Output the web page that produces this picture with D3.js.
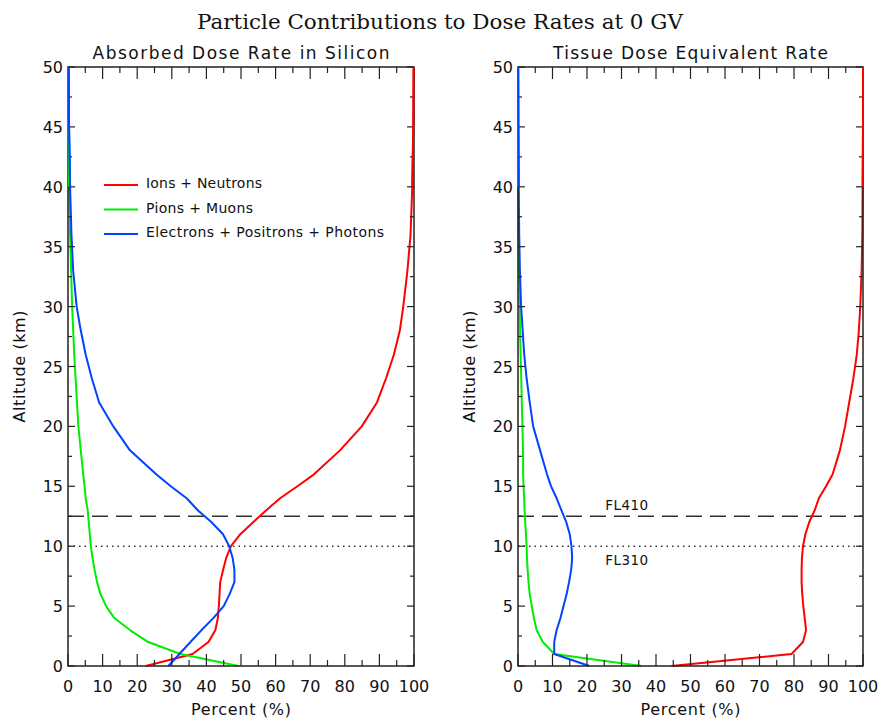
<!DOCTYPE html>
<html><head><meta charset="utf-8">
<script src="https://cdn.jsdelivr.net/npm/d3@7"></script>
<style>body{margin:0;background:#fff}svg{display:block}text{font-family:"DejaVu Sans",sans-serif;fill:#111}</style>
</head><body><svg id="c" width="880" height="721"></svg>
<script>
// ---------- data ----------
const altitudes = [0,1,2,3,4,5,6,7,8,9,10,11,12,13,14,15,16,18,20,22,24,26,28,30,33,36,40,45,50];

// Absorbed dose rate in silicon (%)
const siIonsNeutrons   = [22.5,36,40.6,42.6,43.3,43.6,43.8,44.0,44.8,45.7,47.1,49.8,53.5,57.3,61.3,66.3,71.1,78.6,84.9,89.3,91.9,94.2,95.9,96.9,98.1,99.0,99.5,99.8,99.9];
const siPionsMuons     = [49.3,32.5,23.2,17.9,13.4,11.0,9.4,8.4,7.7,7.1,6.6,6.3,6.0,5.7,5.1,4.8,4.4,3.7,3.0,2.6,2.2,1.8,1.5,1.2,0.9,0.6,0.3,0.15,0.1];
const siElectrons      = [29,32.2,35.4,38.6,42,45,46.7,48.1,48.1,47.6,46.6,44.8,41.5,37.5,34.3,29.7,25.5,17.9,13.1,9.0,6.9,5.1,3.7,2.5,1.5,1.0,0.6,0.3,0.2];

// Tissue dose equivalent rate (%)
const tiIonsNeutrons   = [44.5,79.3,82.6,83.5,83.1,82.7,82.4,82.2,82.2,82.3,82.6,83.3,84.4,86.0,87.2,89.3,91.2,93.3,94.8,96.0,97.2,98.2,98.8,99.2,99.6,99.8,99.9,100,100];
const tiPionsMuons     = [35.8,10.5,7.2,5.4,4.6,4.0,3.4,3.05,2.8,2.6,2.5,2.3,2.1,1.9,1.8,1.6,1.5,1.45,1.3,1.1,0.95,0.75,0.6,0.45,0.3,0.15,0.1,0.05,0.02];
const tiElectrons      = [20.7,10.5,10.5,11.2,12.3,13.2,14.1,14.8,15.4,15.7,15.5,15.0,14.0,12.6,11.2,9.6,8.4,6.4,4.4,3.4,2.5,1.8,1.35,0.9,0.55,0.35,0.2,0.1,0.05];

const seriesNames  = ["Ions + Neutrons","Pions + Muons","Electrons + Positrons + Photons"];
const seriesColors = ["#ff0000","#00ee00","#0044ff"];
const xTicks = [0,10,20,30,40,50,60,70,80,90,100];
const yTicks = [0,5,10,15,20,25,30,35,40,45,50];
const flightLevels = [{name:"FL410", alt:12.5, dash:"16,8"},{name:"FL310", alt:10, dash:"1.5,4"}];

const title = "Particle Contributions to Dose Rates at 0 GV";
const panels = [
  {title:"Absorbed Dose Rate in Silicon", titleLen:297, x0:68, x1:414, series:[siIonsNeutrons,siPionsMuons,siElectrons], legend:true, fl:false},
  {title:"Tissue Dose Equivalent Rate", titleLen:275, x0:518, x1:863, series:[tiIonsNeutrons,tiPionsMuons,tiElectrons], legend:false, fl:true}
];
const legendLens = [116,107,238];

// ---------- draw ----------
const svg = d3.select("#c");
const yTop = 67, yBot = 666;
const axisColor = "#222";

svg.append("text").attr("x",440).attr("y",29).attr("text-anchor","middle")
  .style("font-family","'DejaVu Serif',serif").style("font-size","20px")
  .attr("textLength",486).attr("lengthAdjust","spacingAndGlyphs").text(title);

panels.forEach(p => {
  const x = d3.scaleLinear().domain([0,100]).range([p.x0,p.x1]);
  const y = d3.scaleLinear().domain([0,50]).range([yBot,yTop]);
  const g = svg.append("g");

  // flight level lines
  flightLevels.forEach(f => {
    g.append("line").attr("x1",p.x0).attr("x2",p.x1).attr("y1",y(f.alt)).attr("y2",y(f.alt))
      .attr("stroke","#333").attr("stroke-width",1.4).attr("stroke-dasharray",f.dash);
  });
  if (p.fl) {
    g.append("text").attr("x",x(31.5)).attr("y",y(flightLevels[0].alt)-6).attr("text-anchor","middle")
      .style("font-size","13.5px").attr("textLength",43).text(flightLevels[0].name);
    g.append("text").attr("x",x(31.5)).attr("y",y(flightLevels[1].alt)+19).attr("text-anchor","middle")
      .style("font-size","13.5px").attr("textLength",43).text(flightLevels[1].name);
  }

  // data lines
  const line = d3.line().x(d=>x(d[0])).y(d=>y(d[1]));
  p.series.forEach((s,i) => {
    g.append("path").datum(s.map((v,k)=>[v,altitudes[k]]))
      .attr("d",line).attr("fill","none").attr("stroke",seriesColors[i])
      .attr("stroke-width",2).attr("stroke-linejoin","round");
  });

  // ticks
  d3.range(0,101,5).forEach(v => {
    const len = v % 10 === 0 ? 12 : 6;
    g.append("line").attr("x1",x(v)).attr("x2",x(v)).attr("y1",yBot).attr("y2",yBot-len).attr("stroke",axisColor).attr("stroke-width",1.2);
    g.append("line").attr("x1",x(v)).attr("x2",x(v)).attr("y1",yTop).attr("y2",yTop+len).attr("stroke",axisColor).attr("stroke-width",1.2);
  });
  d3.range(0,50.1,2.5).forEach(v => {
    const len = v % 5 === 0 ? 7 : 4;
    g.append("line").attr("x1",p.x0).attr("x2",p.x0+len).attr("y1",y(v)).attr("y2",y(v)).attr("stroke",axisColor).attr("stroke-width",1.2);
    g.append("line").attr("x1",p.x1).attr("x2",p.x1-len).attr("y1",y(v)).attr("y2",y(v)).attr("stroke",axisColor).attr("stroke-width",1.2);
  });
  // frame
  g.append("path").attr("d",`M${p.x0},${yTop}V${yBot}H${p.x1}V${yTop}Z`)
    .attr("fill","none").attr("stroke",axisColor).attr("stroke-width",1.5);
  // data that sits on the frame (top part) drawn over it, as in the reference
  p.series.forEach((s,i) => {
    g.append("path").datum(s.map((v,k)=>[v,altitudes[k]]).filter(d=>d[1]>=40))
      .attr("d",line).attr("fill","none").attr("stroke",seriesColors[i]).attr("stroke-width",2);
  });

  // tick labels
  xTicks.forEach(v => {
    g.append("text").attr("x",x(v)).attr("y",692).attr("text-anchor","middle").style("font-size","16px").text(v);
  });
  yTicks.forEach(v => {
    g.append("text").attr("x",p.x0-5).attr("y",y(v)+6).attr("text-anchor","end").style("font-size","16px").text(v);
  });

  // axis titles
  g.append("text").attr("x",(p.x0+p.x1)/2).attr("y",715).attr("text-anchor","middle").style("font-size","16px")
    .attr("textLength",100).text("Percent (%)");
  g.append("text").attr("transform",`translate(${p.x0-43},${(yTop+yBot)/2}) rotate(-90)`)
    .attr("text-anchor","middle").style("font-size","16px").attr("textLength",112).text("Altitude (km)");
  g.append("text").attr("x",(p.x0+p.x1)/2).attr("y",59).attr("text-anchor","middle").style("font-size","17px")
    .attr("textLength",p.titleLen).text(p.title);

  // legend
  if (p.legend) {
    seriesNames.forEach((n,i) => {
      const ly = 185 + i*24.5;
      g.append("line").attr("x1",104).attr("x2",138).attr("y1",ly).attr("y2",ly).attr("stroke",seriesColors[i]).attr("stroke-width",2);
      g.append("text").attr("x",146).attr("y",ly+3).style("font-size","14px").attr("textLength",legendLens[i]).text(n);
    });
  }
});
</script></body></html>
